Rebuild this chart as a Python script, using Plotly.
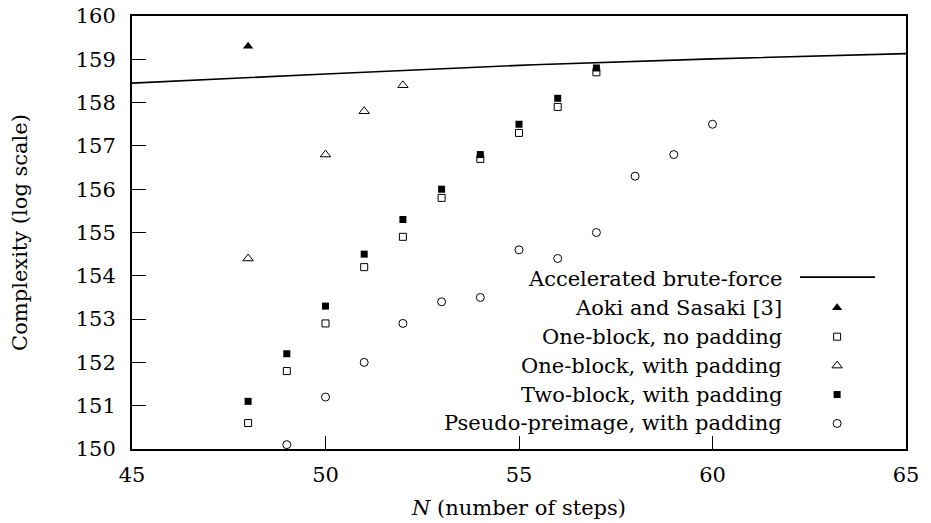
import plotly.graph_objects as go

# ---- data ----
brute_n = [45, 50, 55, 60, 65]
brute_c = [158.45, 158.66, 158.86, 159.01, 159.13]

aoki_n = [48]
aoki_c = [159.3]

ob_nopad_n = [48, 49, 50, 51, 52, 53, 54, 55, 56, 57]
ob_nopad_c = [150.6, 151.8, 152.9, 154.2, 154.9, 155.8, 156.7, 157.3, 157.9, 158.7]

ob_pad_n = [48, 50, 51, 52]
ob_pad_c = [154.4, 156.8, 157.8, 158.4]

tb_pad_n = [48, 49, 50, 51, 52, 53, 54, 55, 56, 57]
tb_pad_c = [151.1, 152.2, 153.3, 154.5, 155.3, 156.0, 156.8, 157.5, 158.1, 158.8]

pseudo_n = [49, 50, 51, 52, 53, 54, 55, 56, 57, 58, 59, 60]
pseudo_c = [150.1, 151.2, 152.0, 152.9, 153.4, 153.5, 154.6, 154.4, 155.0, 156.3, 156.8, 157.5]

x_ticks = [45, 50, 55, 60, 65]
y_ticks = [150, 151, 152, 153, 154, 155, 156, 157, 158, 159, 160]

labels = [
    "Accelerated brute-force",
    "Aoki and Sasaki [3]",
    "One-block, no padding",
    "One-block, with padding",
    "Two-block, with padding",
    "Pseudo-preimage, with padding",
]

FONT = "DejaVu Serif"
FS = 21

# marker styles per series (after the line)
styles = [
    dict(symbol="triangle-up", size=9, color="black", line=dict(width=0)),
    dict(symbol="square-open", size=7, color="black", line=dict(width=1)),
    dict(symbol="triangle-up-open", size=9, color="black", line=dict(width=1)),
    dict(symbol="square", size=7, color="black", line=dict(width=0)),
    dict(symbol="circle-open", size=8, color="black", line=dict(width=1)),
]

fig = go.Figure()

fig.add_trace(go.Scatter(x=brute_n, y=brute_c, mode="lines",
                         line=dict(color="black", width=1.6, shape="spline"),
                         showlegend=False))
series = [(aoki_n, aoki_c), (ob_nopad_n, ob_nopad_c), (ob_pad_n, ob_pad_c),
          (tb_pad_n, tb_pad_c), (pseudo_n, pseudo_c)]
for (xs, ys), st in zip(series, styles):
    fig.add_trace(go.Scatter(x=xs, y=ys, mode="markers", marker=st,
                             showlegend=False, cliponaxis=False))

# ---- manual legend (text right-aligned, key on the right) ----
leg_text_x = 0.843
leg_key_x = 0.911
leg_y0 = 0.393
leg_dy = 0.0668
annotations = []
for i, lab in enumerate(labels):
    annotations.append(dict(xref="paper", yref="paper", x=leg_text_x,
                            y=leg_y0 - i * leg_dy, text=lab, showarrow=False,
                            xanchor="right", yanchor="middle",
                            font=dict(family=FONT, size=FS, color="black")))
# line key
fig.add_trace(go.Scatter(x=[0.863, 0.960], y=[leg_y0 + 0.004] * 2, mode="lines",
                         line=dict(color="black", width=1.6),
                         xaxis="x2", yaxis="y2", showlegend=False, hoverinfo="skip"))
for i, st in enumerate(styles, start=1):
    fig.add_trace(go.Scatter(x=[leg_key_x], y=[leg_y0 - i * leg_dy], mode="markers",
                             marker=st, xaxis="x2", yaxis="y2",
                             showlegend=False, hoverinfo="skip"))

axis_common = dict(showgrid=False, zeroline=False, showline=True, linecolor="black",
                   linewidth=2, mirror=True, ticks="inside", tickcolor="black",
                   tickwidth=1.2, automargin=False,
                   tickfont=dict(family=FONT, size=FS, color="black"))

fig.update_layout(
    width=931, height=523,
    margin=dict(l=132, r=25, t=16, b=74),
    plot_bgcolor="white", paper_bgcolor="white",
    xaxis=dict(range=[45, 65], tickvals=x_ticks, ticklen=13,
               ticklabelstandoff=6,
               title=dict(text="<i>N</i> (number of steps)", standoff=14,
                          font=dict(family=FONT, size=FS, color="black")),
               **axis_common),
    yaxis=dict(range=[150, 160], tickvals=y_ticks, ticklen=14,
               ticklabelstandoff=10,
               title=dict(text="Complexity (log scale)", standoff=42,
                          font=dict(family=FONT, size=FS, color="black")),
               **axis_common),
    xaxis2=dict(range=[0, 1], overlaying="x", visible=False, domain=[0, 1]),
    yaxis2=dict(range=[0, 1], overlaying="y", visible=False),
    annotations=annotations,
)

fig.write_html("out.html", config={"displayModeBar": False},
               post_script="document.body.style.margin='0';document.body.style.overflow='hidden';")
